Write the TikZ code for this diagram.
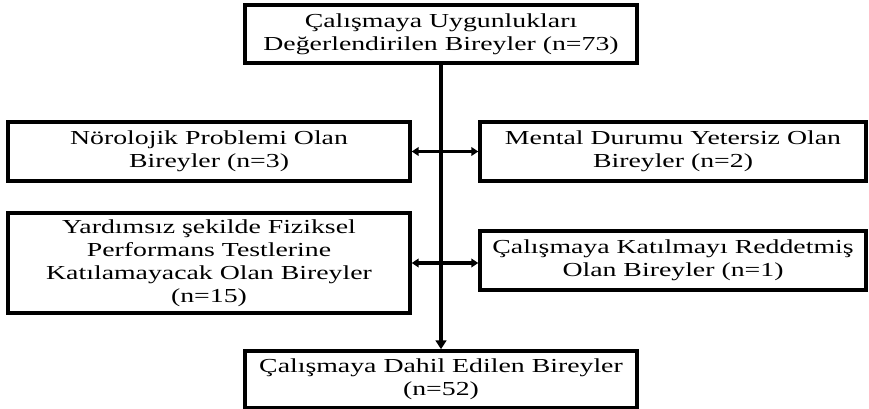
\documentclass[tikz,border=0pt]{standalone}
\usepackage{fontspec}
\setmainfont[FakeStretch=1.4]{Liberation Serif}
\usepackage{tikz}
\usetikzlibrary{arrows.meta}

\begin{document}
\begin{tikzpicture}[x=0.02cm,y=-0.02cm,
  kutu/.style={draw,line width=2pt,align=center,inner sep=2pt,
    font=\fontsize{11.3}{13}\selectfont},
  ok/.style={line width=2pt,-{Triangle[length=5pt,width=6pt]}},
  cift/.style={line width=2pt,{Triangle[length=4pt,width=5pt]}-{Triangle[length=4pt,width=5pt]}}]
\useasboundingbox (0,0) rectangle (869,409);

% main boxes
\node[kutu,minimum width=7.84cm,minimum height=1.16cm] (ust) at (441,34)
  {Çalışmaya Uygunlukları\\Değerlendirilen Bireyler (n=73)};
\node[kutu,minimum width=7.84cm,minimum height=1.14cm] (alt) at (441,379.5)
  {Çalışmaya Dahil Edilen Bireyler\\(n=52)};

% excluded, left side
\node[kutu,minimum width=8.04cm,minimum height=1.18cm] (noro) at (209,151.5)
  {Nörolojik Problemi Olan\\Bireyler (n=3)};
\node[kutu,minimum width=8.04cm,minimum height=2cm] (yard) at (209,263)
  {Yardımsız şekilde Fiziksel\\Performans Testlerine\\Katılamayacak Olan Bireyler\\(n=15)};

% excluded, right side
\node[kutu,minimum width=7.72cm,minimum height=1.18cm] (ment) at (673,151.5)
  {Mental Durumu Yetersiz Olan\\Bireyler (n=2)};
\node[kutu,minimum width=7.72cm,minimum height=1.18cm] (redd) at (673,260.5)
  {Çalışmaya Katılmayı Reddetmiş\\Olan Bireyler (n=1)};

% arrows
\draw[ok] (ust) -- (alt);
\draw[cift] (noro.east) -- (ment.west);
\draw[cift] (yard.east) -- (yard.east -| redd.west);
\end{tikzpicture}
\end{document}
